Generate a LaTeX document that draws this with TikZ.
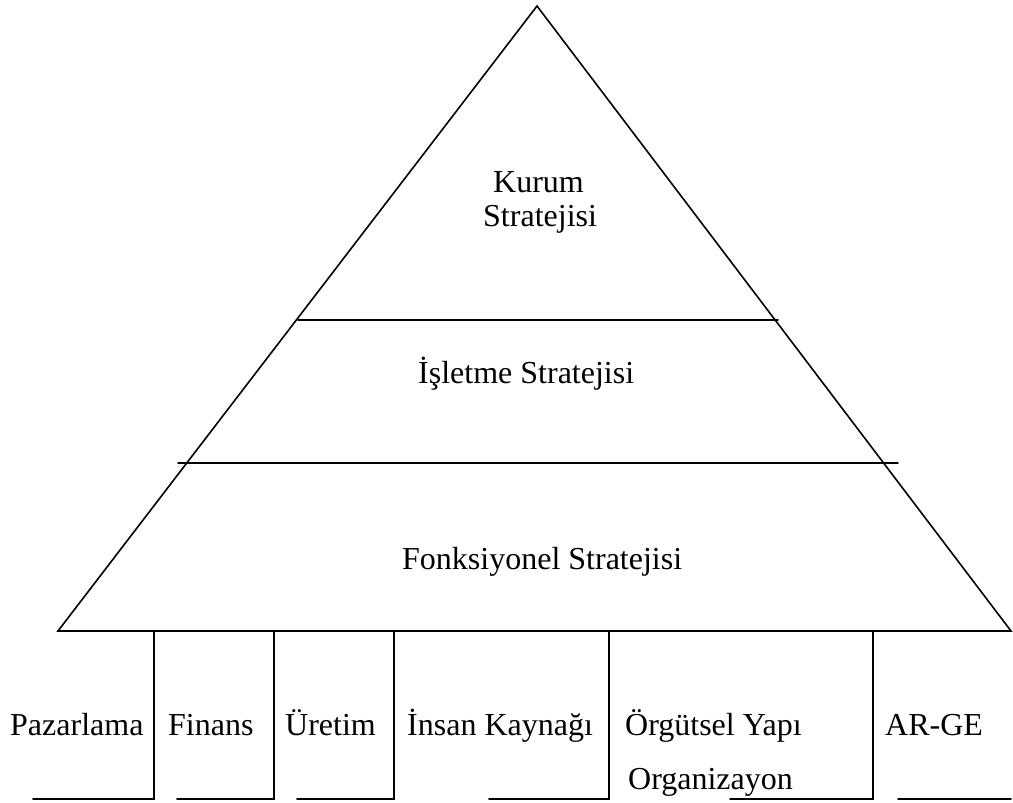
\documentclass[tikz,border=0pt]{standalone}
\usepackage{fontspec}
\setmainfont{Liberation Serif}
\begin{document}
\begin{tikzpicture}[x=1pt,y=-1pt,
  edge/.style={line width=1.6pt,line cap=round},
  lbl/.style={anchor=base west,inner sep=0pt,font=\fontsize{32}{38}\selectfont}]
\useasboundingbox (0,0) rectangle (1013,803);
% pyramid corners
\coordinate (apex) at (537,6);
\coordinate (bl) at (58,631);
\coordinate (br) at (1011,631);
% layer dividers
\coordinate (u1) at (298,320);
\coordinate (u2) at (778,320);
\coordinate (m1) at (178,463);
\coordinate (m2) at (898,463);
\draw[edge] (bl) -- (apex) -- (br) -- cycle;
\draw[edge] (u1) -- (u2);
\draw[edge] (m1) -- (m2);
% functional columns below the base
\foreach \x/\a in {154/33,274/177,394/297,609/489,873/730}{
  \draw[edge] (\x,631) -- (\x,799) -- (\a,799);
}
\coordinate (r1) at (898,799);
\coordinate (r2) at (1011,799);
\draw[edge] (r1) -- (r2);
% labels
\node[lbl] (kurum) at (493,192) {Kurum};
\node[lbl] (kurum2) at (483,226) {Stratejisi};
\node[lbl] (isl) at (418,383) {İşletme Stratejisi};
\node[lbl] (fonk) at (402,569) {Fonksiyonel Stratejisi};
\node[lbl] (paz) at (10,735) {Pazarlama};
\node[lbl] (fin) at (168,735) {Finans};
\node[lbl] (ure) at (285,735) {Üretim};
\node[lbl] (ins) at (407,735) {İnsan Kaynağı};
\node[lbl] (org) at (625,735) {Örgütsel Yapı};
\node[lbl] (org2) at (628,789) {Organizayon};
\node[lbl] (arge) at (885,735) {AR-GE};
\end{tikzpicture}
\end{document}
